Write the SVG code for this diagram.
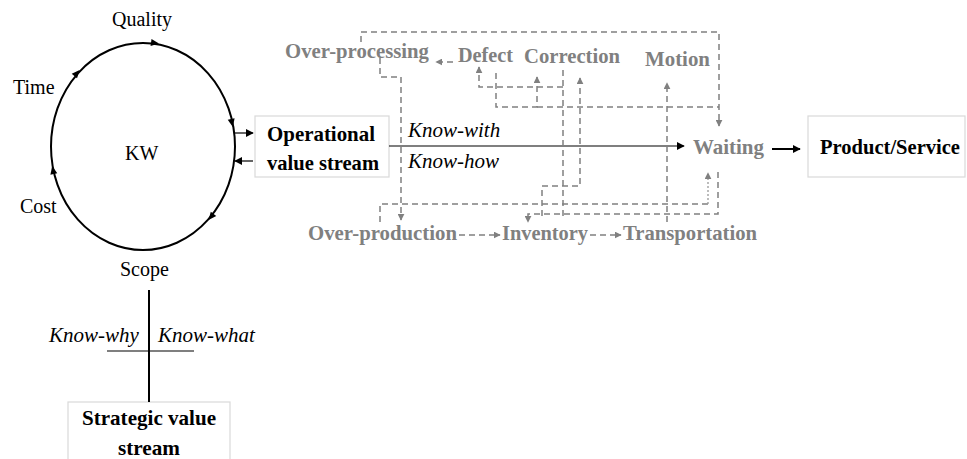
<svg xmlns="http://www.w3.org/2000/svg" xmlns:xlink="http://www.w3.org/1999/xlink" width="967" height="459" viewBox="0 0 967 459">
<defs>
<style>
.t{font-family:"Liberation Serif","Times New Roman",serif;font-size:20px;fill:#000}
.b{font-weight:bold;font-size:22px}
.g{font-weight:bold;font-size:22px;fill:#808080}
.i{font-style:italic;font-size:21px}
.d{fill:none;stroke:#808080;stroke-width:1.5;stroke-dasharray:6 4}
.dot{fill:none;stroke:#999;stroke-width:1.3;stroke-dasharray:2 2}
.box{fill:#fff;stroke:#d9d9d9;stroke-width:1.2}
.k{fill:none;stroke:#000;stroke-width:1.2}
.k2{fill:none;stroke:#000;stroke-width:2}
</style>
<marker id="ga" viewBox="0 0 10 10" refX="9" refY="5" markerWidth="7" markerHeight="7" markerUnits="userSpaceOnUse" orient="auto"><path d="M0,0 L10,5 L0,10 z" fill="#808080"/></marker>
<marker id="ba" viewBox="0 0 10 10" refX="9" refY="5" markerWidth="8" markerHeight="8" markerUnits="userSpaceOnUse" orient="auto"><path d="M0,0 L10,5 L0,10 z" fill="#000"/></marker>
<path id="ah" d="M4,0 L-4,-3.5 L-4,3.5 Z" fill="#000"/>
</defs>
<rect width="967" height="459" fill="#fff"/>

<g id="kw-cycle">
<ellipse cx="143" cy="146.5" rx="92" ry="103.5" class="k2"/>
<use xlink:href="#ah" transform="translate(155,43) rotate(8)"/>
<use xlink:href="#ah" transform="translate(77,73) rotate(-49)"/>
<use xlink:href="#ah" transform="translate(232,123) rotate(78)"/>
<use xlink:href="#ah" transform="translate(211,217) rotate(129)"/>
<use xlink:href="#ah" transform="translate(53,170) rotate(-102)"/>
<text class="t" x="142" y="26" text-anchor="middle">Quality</text>
<text class="t" x="13" y="94">Time</text>
<text class="t" x="125" y="160">KW</text>
<text class="t" x="20" y="213">Cost</text>
<text class="t" x="120" y="276">Scope</text>
</g>

<g id="operational">
<rect class="box" x="255" y="116" width="134" height="61"/>
<text class="t b" x="321" y="141" text-anchor="middle" textLength="108" lengthAdjust="spacingAndGlyphs">Operational</text>
<text class="t b" x="323" y="170" text-anchor="middle" textLength="112" lengthAdjust="spacingAndGlyphs">value stream</text>
</g>

<g id="product">
<rect class="box" x="808" y="116" width="157" height="61"/>
<text class="t b" x="890" y="154" text-anchor="middle" style="font-size:20px" textLength="140" lengthAdjust="spacingAndGlyphs">Product/Service</text>
</g>

<g id="strategic">
<rect class="box" x="68" y="402" width="162" height="62"/>
<text class="t b" x="149" y="425" text-anchor="middle" textLength="134" lengthAdjust="spacingAndGlyphs">Strategic value</text>
<text class="t b" x="149" y="455" text-anchor="middle" textLength="62" lengthAdjust="spacingAndGlyphs">stream</text>
</g>

<g id="wastes">
<text class="t g" x="285" y="58" textLength="144" lengthAdjust="spacingAndGlyphs">Over-processing</text>
<text class="t g" x="458" y="61.5" textLength="55" lengthAdjust="spacingAndGlyphs">Defect</text>
<text class="t g" x="524" y="63" textLength="96" lengthAdjust="spacingAndGlyphs">Correction</text>
<text class="t g" x="645" y="66" textLength="65" lengthAdjust="spacingAndGlyphs">Motion</text>
<text class="t g" x="693" y="154" textLength="71" lengthAdjust="spacingAndGlyphs">Waiting</text>
<text class="t g" x="308" y="240" textLength="149" lengthAdjust="spacingAndGlyphs">Over-production</text>
<text class="t g" x="502" y="240" textLength="86" lengthAdjust="spacingAndGlyphs">Inventory</text>
<text class="t g" x="623" y="240" textLength="134" lengthAdjust="spacingAndGlyphs">Transportation</text>
</g>

<g id="know-labels">
<text class="t i" x="408" y="137">Know-with</text>
<text class="t i" x="408" y="168">Know-how</text>
<text class="t i" x="49" y="342">Know-why</text>
<text class="t i" x="158" y="342">Know-what</text>
</g>

<g id="connectors">
<path class="k" d="M234,133 H253" marker-end="url(#ba)"/>
<path class="k" d="M253,161 H235" marker-end="url(#ba)"/>
<path class="k" d="M389,146 H684" marker-end="url(#ba)"/>
<path class="k2" d="M772,149 H800" marker-end="url(#ba)"/>
<path class="k2" d="M149,290 V402"/>
<path class="k" d="M107,351 H194"/>

<path class="d" d="M361,42 V32 H719 V126" marker-end="url(#ga)"/>
<path class="d" d="M380,58 V77 H401 V220" marker-end="url(#ga)"/>
<path class="d" d="M453,62 H436" marker-end="url(#ga)"/>
<path class="d" d="M563,87 H479 V67" marker-end="url(#ga)"/>
<path class="d" d="M563,70 V217"/>
<path class="d" d="M496,73 V107 H537 V77" marker-end="url(#ga)"/>
<path class="d" d="M537,107 H719"/>
<path class="d" d="M542,216 V186 H580 V78" marker-end="url(#ga)"/>
<path class="d" d="M667,222 V83" marker-end="url(#ga)"/>
<path class="d" d="M380,222 V204 H708"/>
<path class="dot" d="M708,204 V173" marker-end="url(#ga)"/>
<path class="d" d="M718,172 V214 H528 V222" marker-end="url(#ga)"/>
<path class="d" d="M459,235 H500" marker-end="url(#ga)"/>
<path class="d" d="M590,235 H621" marker-end="url(#ga)"/>
</g>
</svg>
